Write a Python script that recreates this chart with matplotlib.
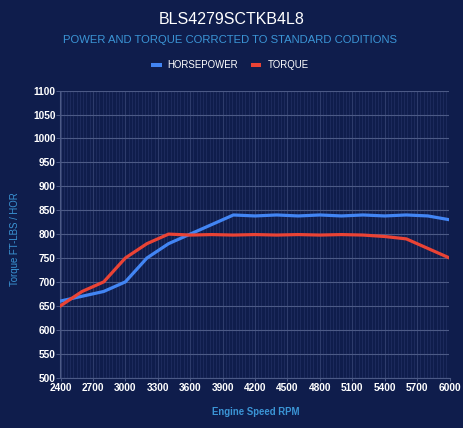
import matplotlib
matplotlib.use("Agg")
import matplotlib.pyplot as plt
from matplotlib.ticker import MultipleLocator
from matplotlib.lines import Line2D

# ---- data ----
rpm = [2400, 2600, 2800, 3000, 3200, 3400, 3600, 3800, 4000, 4200,
       4400, 4600, 4800, 5000, 5200, 5400, 5600, 5800, 6000]
horsepower = [660, 670, 680, 700, 750, 780, 800, 820, 840, 838,
              840, 838, 840, 838, 840, 838, 840, 838, 830]
torque = [650, 680, 700, 750, 780, 800, 798, 799, 798, 799,
          798, 799, 798, 799, 798, 795, 790, 770, 750]
x_ticks = [2400, 2700, 3000, 3300, 3600, 3900, 4200, 4500, 4800, 5100, 5400, 5700, 6000]
y_ticks = [500, 550, 600, 650, 700, 750, 800, 850, 900, 950, 1000, 1050, 1100]

title = "BLS4279SCTKB4L8"
subtitle = "POWER AND TORQUE CORRCTED TO STANDARD CODITIONS"
series_names = ["HORSEPOWER", "TORQUE"]
x_label = "Engine Speed RPM"
y_label = "Torque FT-LBS / HOR"

# ---- style ----
BG = "#0f1d4c"
BLUE = "#4285f4"
RED = "#ea4335"
LIGHTBLUE = "#3b95d6"
GRID = "#4c5a86"
plt.rcParams['font.family'] = ['Liberation Sans', 'DejaVu Sans']

W, H = 463, 428
fig = plt.figure(figsize=(W / 100, H / 100), dpi=100, facecolor=BG)
L, R, T, B = 60.5, 449.5, 90.7, 377.5
ax = fig.add_axes([L / W, 1 - B / H, (R - L) / W, (B - T) / H])
ax.set_facecolor(BG)

ax.plot(rpm, horsepower, color=BLUE, lw=2.3, solid_joinstyle='round', zorder=3)
ax.plot(rpm, torque, color=RED, lw=2.3, solid_joinstyle='round', zorder=3)

ax.set_xlim(2400, 6000)
ax.set_ylim(500, 1100)
ax.set_xticks(x_ticks)
ax.set_yticks(y_ticks)
ax.xaxis.set_minor_locator(MultipleLocator(30))

ax.grid(axis='y', which='major', color=GRID, lw=0.8, zorder=1)
ax.grid(axis='x', which='major', color="#2e3c6c", lw=0.8, zorder=1)
ax.grid(axis='x', which='minor', color="#1d2b5d", lw=0.7, zorder=0)

for s in ax.spines.values():
    s.set_visible(False)
ax.spines['left'].set_visible(True)
ax.spines['left'].set_color(GRID)
ax.spines['left'].set_linewidth(0.8)
ax.spines['bottom'].set_visible(True)
ax.spines['bottom'].set_color(GRID)
ax.spines['bottom'].set_linewidth(0.8)

ax.tick_params(axis='y', which='major', length=2.6, width=0.7, color=GRID, pad=1.0,
               labelsize=7.3, labelcolor='white')
ax.tick_params(axis='x', which='major', length=2.0, width=0.7, color=GRID, pad=2.2,
               labelsize=7.3, labelcolor='white')
ax.tick_params(axis='x', which='minor', length=0)
for lab in ax.get_xticklabels() + ax.get_yticklabels():
    lab.set_fontweight('bold')

fig.text(231.5 / W, 1 - 20 / H, title, color='white', fontsize=11.5,
         ha='center', va='center')
fig.text(230 / W, 1 - 40 / H, subtitle, color=LIGHTBLUE, fontsize=8.1,
         ha='center', va='center')

handles = [Line2D([0], [0], color=BLUE, lw=2.9, solid_capstyle='butt'),
           Line2D([0], [0], color=RED, lw=2.9, solid_capstyle='butt')]
leg = fig.legend(handles, series_names, loc='center', bbox_to_anchor=(230 / W, 1 - 65 / H),
                 ncol=2, frameon=False, fontsize=6.9, handlelength=1.05,
                 handletextpad=0.63, columnspacing=1.37, labelcolor='white')

fig.text(255.5 / W, 1 - 411.7 / H, x_label, color=LIGHTBLUE, fontsize=6.9,
         fontweight='bold', ha='center', va='center')
fig.text(15 / W, 1 - 239 / H, y_label, color=LIGHTBLUE, fontsize=6.9,
         rotation=90, ha='center', va='center')

fig.savefig("out.png", dpi=100, facecolor=BG)
